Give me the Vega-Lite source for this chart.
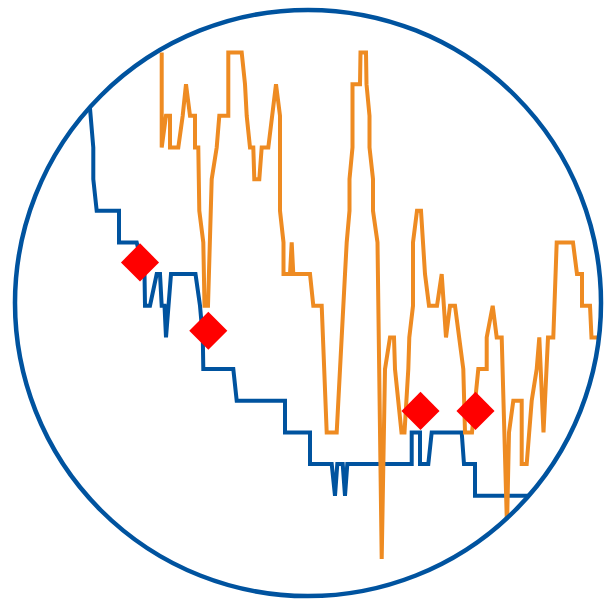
{
  "$schema": "https://vega.github.io/schema/vega-lite/v6.json",
  "width": 613,
  "height": 601,
  "autosize": {"type": "none"},
  "padding": 0,
  "background": "white",
  "config": {"view": {"stroke": null}},
  "datasets": {
    "blue": [
      {"i":0,"t":85.3,"v":16},{"i":1,"t":93.3,"v":13},{"i":2,"t":93.3,"v":12},{"i":3,"t":96.7,"v":11},
      {"i":4,"t":119,"v":11},{"i":5,"t":119,"v":10},{"i":6,"t":136.7,"v":10},{"i":7,"t":144.5,"v":9},
      {"i":8,"t":145,"v":8},{"i":9,"t":150,"v":8},{"i":10,"t":156.7,"v":9},{"i":11,"t":160,"v":9},
      {"i":12,"t":161.7,"v":8},{"i":13,"t":164.5,"v":8},{"i":14,"t":166,"v":7},{"i":15,"t":171,"v":9},
      {"i":16,"t":195.5,"v":9},{"i":17,"t":200,"v":8},{"i":18,"t":202.8,"v":7},{"i":19,"t":203.3,"v":6},
      {"i":20,"t":233.3,"v":6},{"i":21,"t":236.7,"v":5},{"i":22,"t":285,"v":5},{"i":23,"t":285,"v":4},
      {"i":24,"t":310,"v":4},{"i":25,"t":310,"v":3},{"i":26,"t":331.7,"v":3},{"i":27,"t":335,"v":2},
      {"i":28,"t":337.3,"v":3},{"i":29,"t":342.7,"v":3},{"i":30,"t":345,"v":2},{"i":31,"t":347.3,"v":3},
      {"i":32,"t":411.7,"v":3},{"i":33,"t":411.7,"v":4},{"i":34,"t":420,"v":4},{"i":35,"t":420,"v":3},
      {"i":36,"t":428.3,"v":3},{"i":37,"t":431.7,"v":4},{"i":38,"t":461.7,"v":4},{"i":39,"t":464,"v":3},
      {"i":40,"t":475,"v":3},{"i":41,"t":475,"v":2},{"i":42,"t":545,"v":2}
    ],
    "orange": [
      {"i":0,"t":161.7,"v":16},{"i":1,"t":161.7,"v":13},{"i":2,"t":166,"v":14},{"i":3,"t":170,"v":14},
      {"i":4,"t":170,"v":13},{"i":5,"t":178.3,"v":13},{"i":6,"t":182.7,"v":14},{"i":7,"t":186,"v":15},
      {"i":8,"t":190,"v":14},{"i":9,"t":195,"v":14},{"i":10,"t":195,"v":13},{"i":11,"t":198.3,"v":13},
      {"i":12,"t":199.3,"v":11},{"i":13,"t":203.3,"v":10},{"i":14,"t":204.5,"v":8},{"i":15,"t":208,"v":8},
      {"i":16,"t":211.7,"v":12},{"i":17,"t":216.7,"v":13},{"i":18,"t":219.3,"v":14},{"i":19,"t":228.3,"v":14},
      {"i":20,"t":228.3,"v":16},{"i":21,"t":241.7,"v":16},{"i":22,"t":245,"v":15},{"i":23,"t":246.7,"v":14},
      {"i":24,"t":250,"v":13},{"i":25,"t":253.3,"v":13},{"i":26,"t":254.3,"v":12},{"i":27,"t":259.3,"v":12},
      {"i":28,"t":261.7,"v":13},{"i":29,"t":268.3,"v":13},{"i":30,"t":276,"v":15},{"i":31,"t":280,"v":14},
      {"i":32,"t":280,"v":11},{"i":33,"t":283.5,"v":10},{"i":34,"t":283.5,"v":9},{"i":35,"t":290,"v":9},
      {"i":36,"t":291.7,"v":10},{"i":37,"t":293.3,"v":9},{"i":38,"t":310,"v":9},{"i":39,"t":313.3,"v":8},
      {"i":40,"t":321.7,"v":8},{"i":41,"t":326.7,"v":4},{"i":42,"t":336.7,"v":4},{"i":43,"t":345,"v":9},
      {"i":44,"t":346.7,"v":10},{"i":45,"t":349.5,"v":11},{"i":46,"t":349.5,"v":12},{"i":47,"t":352.5,"v":13},
      {"i":48,"t":352.5,"v":15},{"i":49,"t":360,"v":15},{"i":50,"t":360.5,"v":16},{"i":51,"t":366,"v":16},
      {"i":52,"t":366.5,"v":15},{"i":53,"t":369.5,"v":14},{"i":54,"t":369.5,"v":13},{"i":55,"t":373,"v":12},
      {"i":56,"t":373,"v":11},{"i":57,"t":377.5,"v":10},{"i":58,"t":381.7,"v":0},{"i":59,"t":385,"v":6},
      {"i":60,"t":390,"v":7},{"i":61,"t":394,"v":7},{"i":62,"t":395,"v":6},{"i":63,"t":401.5,"v":4},
      {"i":64,"t":404.5,"v":4},{"i":65,"t":408.3,"v":6},{"i":66,"t":409.3,"v":7},{"i":67,"t":413,"v":8},
      {"i":68,"t":413,"v":10},{"i":69,"t":417,"v":11},{"i":70,"t":421,"v":11},{"i":71,"t":425,"v":9},
      {"i":72,"t":429,"v":8},{"i":73,"t":437,"v":8},{"i":74,"t":441.7,"v":9},{"i":75,"t":446,"v":7},
      {"i":76,"t":450,"v":8},{"i":77,"t":455,"v":8},{"i":78,"t":463.3,"v":6},{"i":79,"t":465,"v":4},
      {"i":80,"t":472,"v":4},{"i":81,"t":478.3,"v":6},{"i":82,"t":486.7,"v":6},{"i":83,"t":486.7,"v":7},
      {"i":84,"t":492.7,"v":8},{"i":85,"t":496.7,"v":7},{"i":86,"t":501.7,"v":7},{"i":87,"t":507,"v":1},
      {"i":88,"t":509,"v":4},{"i":89,"t":513.3,"v":5},{"i":90,"t":521.7,"v":5},{"i":91,"t":521.7,"v":3},
      {"i":92,"t":526.7,"v":3},{"i":93,"t":531.7,"v":5},{"i":94,"t":536.7,"v":6},{"i":95,"t":539.3,"v":7},
      {"i":96,"t":543.5,"v":4},{"i":97,"t":548,"v":7},{"i":98,"t":553.3,"v":7},{"i":99,"t":556.7,"v":10},
      {"i":100,"t":573,"v":10},{"i":101,"t":577,"v":9},{"i":102,"t":582,"v":9},{"i":103,"t":582,"v":8},
      {"i":104,"t":590,"v":8},{"i":105,"t":591.5,"v":7},{"i":106,"t":620,"v":7}
    ],
    "signals": [
      {"t":140,"v":9.37},{"t":208.3,"v":7.21},{"t":420.5,"v":4.68},{"t":475.5,"v":4.68}
    ],
    "frame": [{"t":308,"v":8.088}]
  },
  "encoding": {
    "x": {"field":"t","type":"quantitative","scale":{"domain":[0,613],"nice":false,"zero":false},"axis":null},
    "y": {"field":"v","type":"quantitative","scale":{"domain":[-1.325,17.658],"nice":false,"zero":false},"axis":null}
  },
  "layer": [
    {"data":{"name":"blue"},"mark":{"type":"line","color":"#00539F","strokeWidth":4},
     "encoding":{"order":{"field":"i","type":"quantitative"}}},
    {"data":{"name":"orange"},"mark":{"type":"line","color":"#EE8B22","strokeWidth":4},
     "encoding":{"order":{"field":"i","type":"quantitative"}}},
    {"data":{"name":"signals"},"mark":{"type":"point","shape":"diamond","filled":true,"fill":"#FF0000","size":1450,"opacity":1,"strokeWidth":0}},
    {"data":{"name":"frame"},"mark":{"type":"point","shape":"M-3,-3L3,-3L3,3L-3,3Z M1,0A1,1,0,0,0,-1,0A1,1,0,0,0,1,0Z","filled":true,"fill":"white","size":343396,"opacity":1,"strokeWidth":0}},
    {"data":{"name":"frame"},"mark":{"type":"point","shape":"circle","filled":false,"stroke":"#00539F","strokeWidth":4.5,"size":343396,"opacity":1}}
  ]
}
